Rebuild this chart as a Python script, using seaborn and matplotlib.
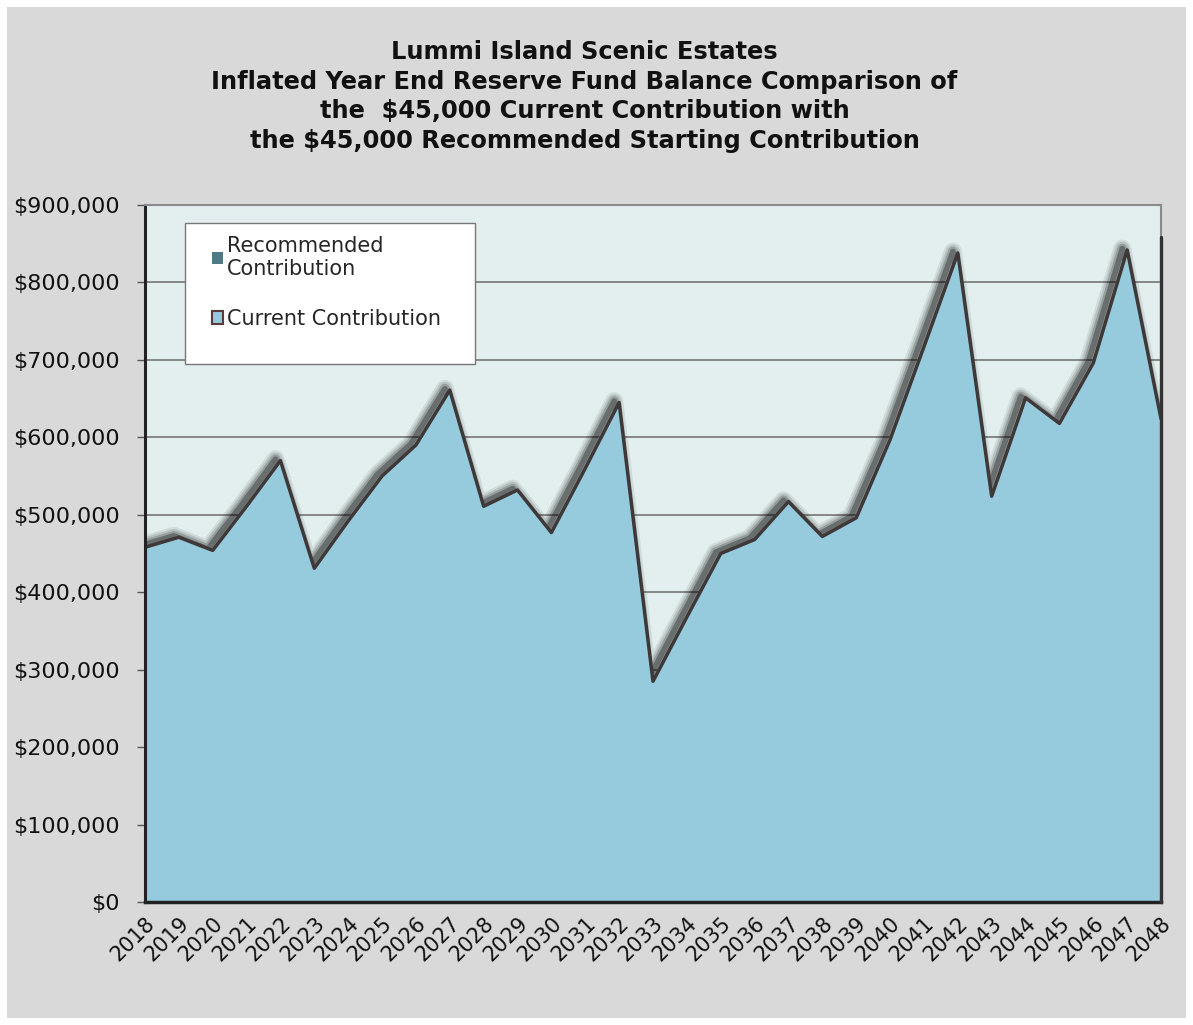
import matplotlib
matplotlib.use("Agg")
import matplotlib.pyplot as plt
import matplotlib.patheffects as pe
from matplotlib.patches import Rectangle, Patch
from matplotlib.ticker import FuncFormatter
import pandas as pd
import seaborn as sns

# chart data
years = list(range(2018, 2049))
current_contribution = [458, 471, 454, 511, 570, 431, 492, 550, 590, 661,
                        511, 532, 477, 560, 645, 285, 368, 450, 468, 517,
                        472, 496, 597, 717, 838, 524, 651, 618, 696, 842, 624]
recommended_contribution = list(current_contribution)  # same $45,000 plan, hidden behind
y_ticks = [0, 100000, 200000, 300000, 400000, 500000, 600000, 700000, 800000, 900000]

title = ("Lummi Island Scenic Estates\n"
         "Inflated Year End Reserve Fund Balance Comparison of\n"
         "the  $45,000 Current Contribution with\n"
         "the $45,000 Recommended Starting Contribution")


def main():
    df = pd.DataFrame({
        "Year": years,
        "Current": [v * 1000 for v in current_contribution],
        "Recommended": [v * 1000 for v in recommended_contribution],
    })

    sns.set_theme(style="white")
    plt.rcParams['font.family'] = ['DejaVu Sans']

    fig = plt.figure(figsize=(11.93, 10.25), dpi=100)
    fig.patch.set_facecolor("white")
    fig.patches.append(Rectangle((0.006, 0.007), 0.988, 0.986, transform=fig.transFigure,
                                 facecolor="#d9d9d9", edgecolor="none", zorder=-10))

    ax = fig.add_axes([0.1215, 0.12, 0.8517, 0.68])
    ax.set_facecolor("#e2efee")

    fill_col = "#95cbdd"
    line_col = "#3f3838"

    # blurred drop shadow, shifted left and drawn under the fill
    shadows = [pe.SimpleLineShadow(offset=(-3.5, 1), shadow_color="black", alpha=a, linewidth=w)
               for w, a in [(13, 0.08), (10, 0.12), (7, 0.18), (4, 0.3)]]
    sns.lineplot(data=df, x="Year", y="Current", ax=ax, color="black", linewidth=2,
                 zorder=2.5, legend=False, path_effects=shadows)

    # recommended area (identical values, sits underneath)
    ax.fill_between(df["Year"], df["Recommended"], color="#4f7a85", zorder=2.6)
    # current area
    ax.fill_between(df["Year"], df["Current"], color=fill_col, zorder=3)
    sns.lineplot(data=df, x="Year", y="Current", ax=ax, color=line_col, linewidth=2.5,
                 zorder=4, legend=False)

    ax.set_xlim(2018, 2048)
    ax.set_ylim(0, 900000)
    ax.set_yticks(y_ticks)
    ax.yaxis.set_major_formatter(FuncFormatter(lambda v, p: f"${int(v):,}"))
    ax.set_xticks(years)
    ax.set_xticklabels([str(y) for y in years], rotation=45, ha="right",
                       rotation_mode="anchor", fontsize=15)
    ax.tick_params(axis="y", labelsize=16, direction="out", length=6, width=1,
                   color="#555555", left=True, pad=12)
    ax.tick_params(axis="x", direction="in", length=6, width=1, color="#555555",
                   bottom=True, pad=8)
    for lab in ax.get_yticklabels() + ax.get_xticklabels():
        lab.set_color("#111111")

    ax.grid(axis="y", color="#7f7f7f", linewidth=1.3)
    ax.set_axisbelow(True)
    ax.set_xlabel("")
    ax.set_ylabel("")

    ax.spines["left"].set_color("#222222")
    ax.spines["left"].set_linewidth(2.2)
    ax.spines["bottom"].set_color("#222222")
    ax.spines["bottom"].set_linewidth(2.5)
    ax.spines["top"].set_color("#8a8a8a")
    ax.spines["top"].set_linewidth(1.5)
    ax.spines["right"].set_color("#8a8a8a")
    ax.spines["right"].set_linewidth(1.5)
    for s in ax.spines.values():
        s.set_zorder(6)
    # darker right edge below the small notch near the top
    ax.plot([1, 1], [0, 0.954], transform=ax.transAxes, color="#333333",
            linewidth=2.4, clip_on=False, zorder=7)

    # legend box
    ax.add_patch(Rectangle((0.0394, 0.772), 0.2854, 0.202, transform=ax.transAxes,
                           facecolor="white", edgecolor="#777777", linewidth=1, zorder=9))
    handles = [Patch(facecolor="#4f7a85", edgecolor="none", label="Recommended\nContribution"),
               Patch(facecolor=fill_col, edgecolor="#5a3a3a", linewidth=1.5,
                     label="Current Contribution")]
    leg = ax.legend(handles=handles, loc="upper left", bbox_to_anchor=(0.066, 0.956),
                    fontsize=15, frameon=False, handlelength=0.55,
                    handleheight=0.55, handletextpad=0.15, labelspacing=1.45,
                    borderpad=0, borderaxespad=0)
    leg.set_zorder(10)

    fig.text(0.49, 0.906, title, ha="center", va="center", fontsize=17.4,
             fontweight="bold", color="#111111", linespacing=1.3)

    fig.savefig("out.png", dpi=100, facecolor=fig.get_facecolor())


if __name__ == "__main__":
    main()
